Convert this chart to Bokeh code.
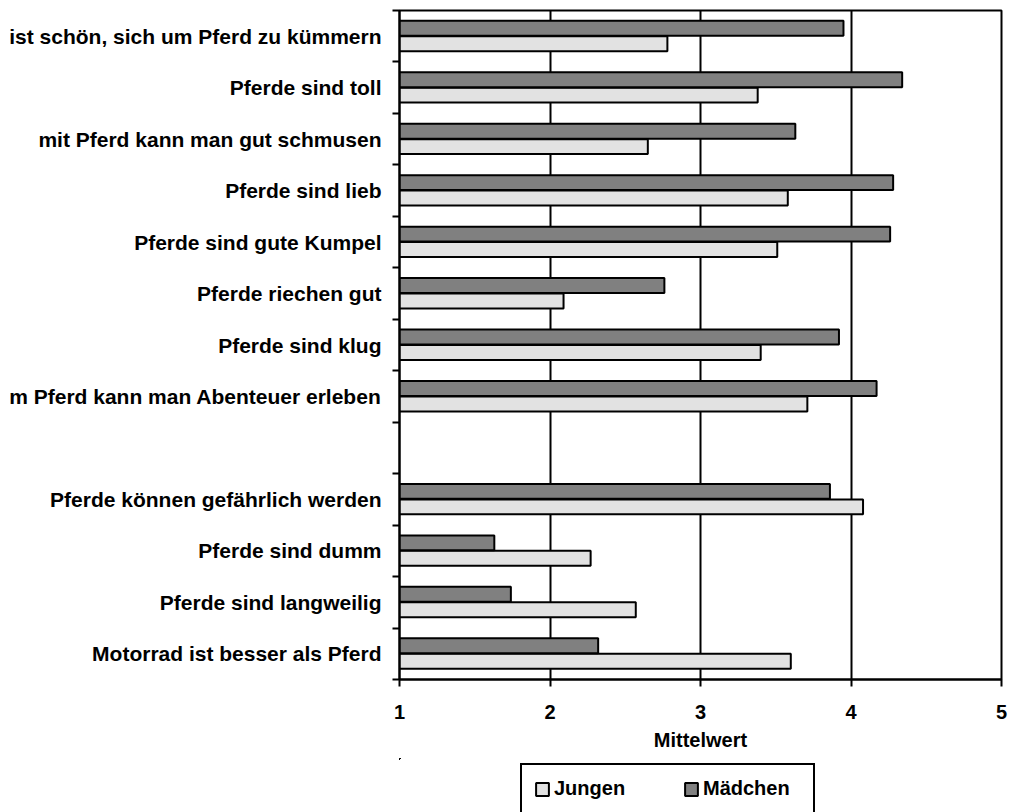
from bokeh.plotting import figure
from bokeh.layouts import column
from bokeh.models import (Range1d, FixedTicker, Legend, LegendItem, ColumnDataSource)
from bokeh.embed import file_html
from bokeh.resources import INLINE

# Statements about horses, positive ones first, then the negative ones
positive_items = [
    "ist schön, sich um Pferd zu kümmern",
    "Pferde sind toll",
    "mit Pferd kann man gut schmusen",
    "Pferde sind lieb",
    "Pferde sind gute Kumpel",
    "Pferde riechen gut",
    "Pferde sind klug",
    "m Pferd kann man Abenteuer erleben",
]
positive_jungen = [2.78, 3.38, 2.65, 3.58, 3.51, 2.09, 3.40, 3.71]
positive_maedchen = [3.95, 4.34, 3.63, 4.28, 4.26, 2.76, 3.92, 4.17]

negative_items = [
    "Pferde können gefährlich werden",
    "Pferde sind dumm",
    "Pferde sind langweilig",
    "Motorrad ist besser als Pferd",
]
negative_jungen = [4.08, 2.27, 2.57, 3.60]
negative_maedchen = [3.86, 1.63, 1.74, 2.32]

x_ticks = [1, 2, 3, 4, 5]
x_title = "Mittelwert"
series_names = ["Jungen", "Mädchen"]

FONT = "Liberation Sans"
DARK = "#808080"
LIGHT = "#e2e2e2"

# one empty slot separates the two groups; slot 0 is at the top
labels = positive_items + [""] + negative_items
jungen = positive_jungen + [None] + negative_jungen
maedchen = positive_maedchen + [None] + negative_maedchen
n_slots = len(labels)

centers, lab_map = [], {}
j_y, j_v, m_y, m_v = [], [], [], []
for i, (lab, jv, mv) in enumerate(zip(labels, jungen, maedchen)):
    c = n_slots - i - 0.5
    centers.append(c)
    lab_map[c] = lab
    if jv is not None:
        j_y.append(c - 0.145)
        j_v.append(jv)
        m_y.append(c + 0.155)
        m_v.append(mv)

src_j = ColumnDataSource(dict(y=j_y, v=j_v))
src_m = ColumnDataSource(dict(y=m_y, v=m_v))

p = figure(width=1010, height=758, output_backend="svg", toolbar_location=None,
           x_range=Range1d(1, 5), y_range=Range1d(0, n_slots),
           min_border_left=399, min_border_right=9, min_border_top=10,
           min_border_bottom=79)

p.outline_line_color = "black"
p.outline_line_width = 2
p.background_fill_color = "white"
p.border_fill_color = "white"

# vertical grid lines at the value ticks
p.ygrid.visible = False
p.xgrid.ticker = FixedTicker(ticks=x_ticks)
p.xgrid.grid_line_color = "black"
p.xgrid.grid_line_width = 2

bar_style = dict(left=1, right="v", height=0.29, line_color="black", line_width=2)
r_j = p.hbar(y="y", source=src_j, fill_color=LIGHT, **bar_style)
r_m = p.hbar(y="y", source=src_m, fill_color=DARK, **bar_style)

# x axis
xa = p.xaxis[0]
xa.ticker = FixedTicker(ticks=x_ticks)
xa.axis_line_width = 2
xa.axis_line_color = "black"
xa.major_tick_line_width = 2
xa.major_tick_out = 7
xa.major_tick_in = 0
xa.minor_tick_line_color = None
xa.major_label_text_font = FONT
xa.major_label_text_font_style = "bold"
xa.major_label_text_font_size = "20px"
xa.major_label_text_color = "black"
xa.major_label_standoff = 18
xa.axis_label = x_title
xa.axis_label_text_font = FONT
xa.axis_label_text_font_style = "bold"
xa.axis_label_text_font_size = "20px"
xa.axis_label_text_color = "black"
xa.axis_label_standoff = 7

# y axis: labels in slot centres, tick marks on slot boundaries
ya = p.yaxis[0]
ya.ticker = FixedTicker(ticks=centers, minor_ticks=list(range(0, n_slots + 1)))
ya.major_label_overrides = lab_map
ya.major_tick_line_color = None
ya.major_tick_out = 0
ya.major_tick_in = 0
ya.minor_tick_line_color = "black"
ya.minor_tick_line_width = 2
ya.minor_tick_out = 7
ya.minor_tick_in = 0
ya.axis_line_width = 2
ya.axis_line_color = "black"
ya.major_label_text_font = FONT
ya.major_label_text_font_style = "bold"
ya.major_label_text_font_size = "21px"
ya.major_label_text_color = "black"
ya.major_label_standoff = 11

# legend strip underneath the chart; its bars lie outside both of its
# ranges, so only the legend entries show
leg_fig = figure(width=1010, height=54, output_backend="svg", toolbar_location=None,
                 x_range=Range1d(20, 21), y_range=Range1d(-20, -19),
                 min_border_left=399, min_border_right=9, min_border_top=0,
                 min_border_bottom=0)
leg_fig.axis.visible = False
leg_fig.grid.visible = False
leg_fig.outline_line_color = None
leg_fig.background_fill_color = "white"
leg_fig.border_fill_color = "white"

lj = leg_fig.hbar(y="y", source=src_j, fill_color=LIGHT, **bar_style)
lm = leg_fig.hbar(y="y", source=src_m, fill_color=DARK, **bar_style)

legend = Legend(items=[LegendItem(label=series_names[0], renderers=[lj]),
                       LegendItem(label=series_names[1], renderers=[lm])],
                orientation="horizontal", location=(121, -2), margin=0,
                padding=12, spacing=31, label_standoff=4, label_width=98,
                glyph_width=16, glyph_height=16, label_height=16,
                border_line_color="black", border_line_width=2,
                border_line_alpha=1,
                background_fill_color="white", background_fill_alpha=1,
                label_text_font=FONT, label_text_font_style="bold",
                label_text_font_size="20px", label_text_color="black")
leg_fig.add_layout(legend, "center")

layout = column(p, leg_fig, spacing=0)
open("out.html", "w").write(file_html(layout, INLINE))
